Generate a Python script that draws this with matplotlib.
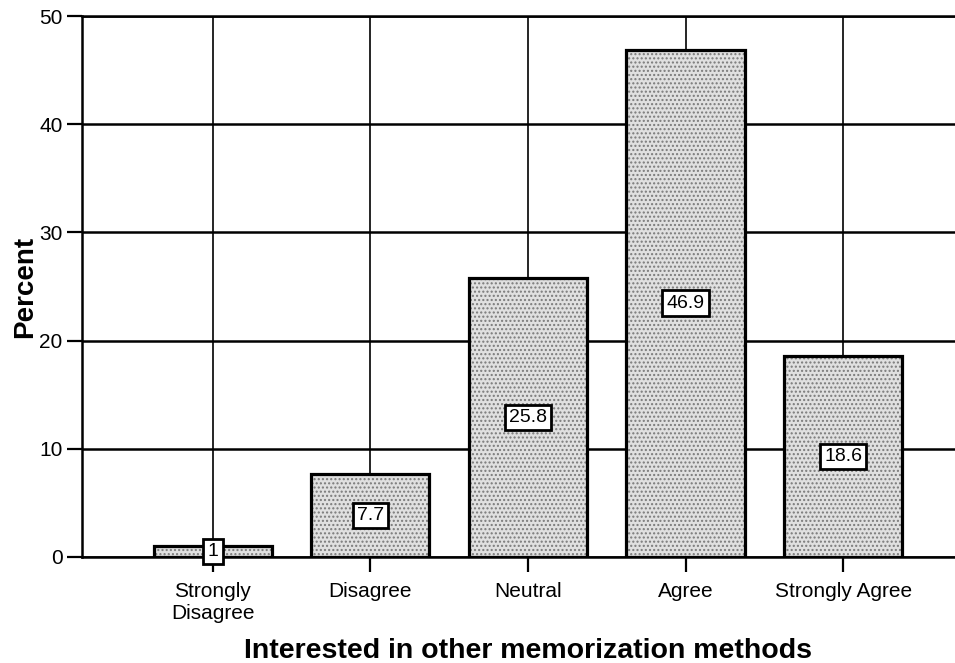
import matplotlib
matplotlib.use("Agg")
import matplotlib.pyplot as plt

categories = ["Strongly\nDisagree", "Disagree", "Neutral", "Agree", "Strongly Agree"]
values = [1.0, 7.7, 25.8, 46.9, 18.6]
value_labels = ["1", "7.7", "25.8", "46.9", "18.6"]
yticks = [0, 10, 20, 30, 40, 50]

plt.rcParams['font.family'] = ['Liberation Sans', 'DejaVu Sans']

fig = plt.figure(figsize=(9.55, 6.63), dpi=100)
ax = fig.add_axes([82/955, 1-557/663, 1-82/955, (557-16)/663])

x = list(range(len(categories)))
width = 0.75

ax.set_axisbelow(True)
ax.yaxis.grid(True, color='black', linewidth=1.8)
ax.xaxis.grid(True, color='black', linewidth=1.2)

plt.rcParams['hatch.color'] = '#7a7a7a'
ax.bar(x, values, width=width, color='#e0e0e0', edgecolor='#7a7a7a',
       hatch='....', linewidth=0, zorder=3)
ax.bar(x, values, width=width, facecolor='none', edgecolor='black',
       linewidth=2.3, zorder=4)

for xi, v, lab in zip(x, values, value_labels):
    ax.text(xi, v / 2, lab, ha='center', va='center', fontsize=14, zorder=6,
            bbox=dict(boxstyle='square,pad=0.22', fc='white', ec='black', lw=2))

ax.set_xlim(-0.83, 4.71)
ax.set_ylim(0, 50)
ax.set_yticks(yticks)
ax.set_xticks(x)
ax.set_xticklabels(categories, fontsize=15, linespacing=1.2)
ax.tick_params(axis='y', labelsize=15, length=11, width=1.6, pad=3, direction='out')
ax.tick_params(axis='x', length=11, width=1.6, pad=7, direction='out')

for s in ['left', 'top', 'bottom']:
    ax.spines[s].set_linewidth(1.8)
ax.spines['right'].set_visible(False)

ax.set_ylabel('Percent', fontsize=20, fontweight='bold', labelpad=1)
xl = ax.set_xlabel('Interested in other memorization methods', fontsize=20.5,
                   fontweight='bold')
xl.set_va('baseline')
ax.xaxis.set_label_coords(0.511, (557 - 658) / 541)

fig.savefig('out.png', dpi=100)
